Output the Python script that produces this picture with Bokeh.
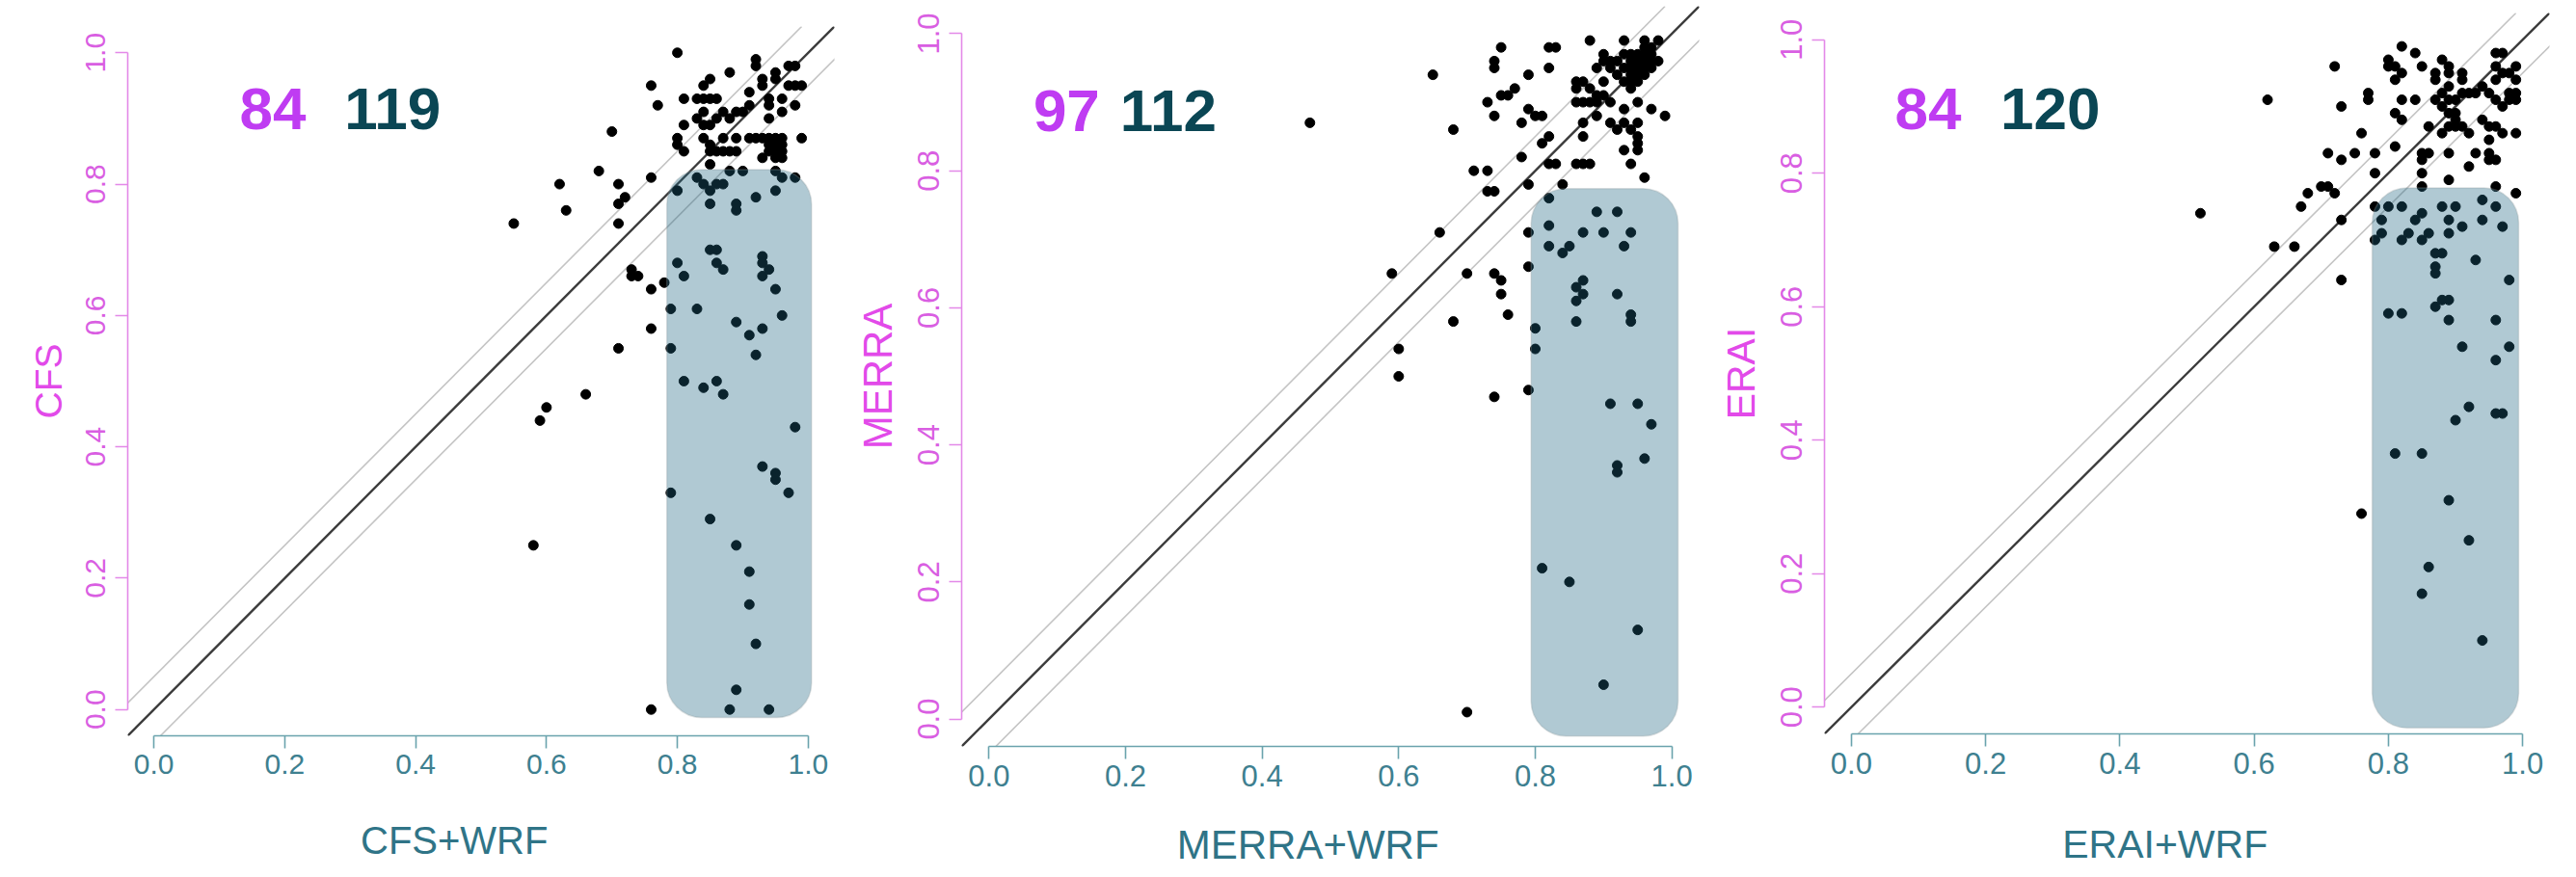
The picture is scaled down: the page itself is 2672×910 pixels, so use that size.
import math
from bokeh.plotting import figure
from bokeh.layouts import row
from bokeh.models import Slope, BoxAnnotation, Label, FixedTicker, PrintfTickFormatter, Range1d
from bokeh.embed import file_html
from bokeh.resources import INLINE

# ---------------- data ----------------
TICKS = [0.0, 0.2, 0.4, 0.6, 0.8, 1.0]

cfs_x = [0.80, 0.92, 0.92, 0.97, 0.98, 0.97, 0.98, 0.99, 0.95, 0.95,
         0.93, 0.93, 0.88, 0.85, 0.84, 0.76, 0.77, 0.81, 0.83, 0.84,
         0.85, 0.86, 0.91, 0.96, 0.98, 0.96, 0.94, 0.94, 0.94, 0.91,
         0.90, 0.89, 0.88, 0.87, 0.86, 0.84, 0.83, 0.85, 0.84, 0.81,
         0.80, 0.80, 0.81, 0.84, 0.85, 0.85, 0.86, 0.87, 0.88, 0.89,
         0.87, 0.89, 0.91, 0.92, 0.93, 0.94, 0.95, 0.96, 0.94, 0.95,
         0.96, 0.94, 0.95, 0.96, 0.99, 0.93, 0.95, 0.96, 0.85, 0.88,
         0.90, 0.95, 0.96, 0.98, 0.76, 0.68, 0.71, 0.72, 0.71, 0.62,
         0.63, 0.55, 0.70, 0.71, 0.73, 0.73, 0.74, 0.76, 0.78, 0.76,
         0.71, 0.66, 0.60, 0.59, 0.58, 0.76,
         0.95, 0.83, 0.84, 0.85, 0.86, 0.87, 0.80, 0.85, 0.89, 0.89,
         0.92, 0.80, 0.81, 0.79, 0.83, 0.79, 0.81, 0.84, 0.86, 0.87,
         0.85, 0.86, 0.86, 0.87, 0.93, 0.93, 0.94, 0.93, 0.95, 0.89,
         0.91, 0.93, 0.92, 0.96, 0.79, 0.85, 0.98, 0.93, 0.95, 0.95,
         0.97, 0.89, 0.91, 0.91, 0.92, 0.89, 0.88, 0.94]
cfs_y = [1.00, 0.99, 0.98, 0.98, 0.98, 0.95, 0.95, 0.95, 0.97, 0.96,
         0.96, 0.95, 0.97, 0.96, 0.95, 0.95, 0.92, 0.93, 0.93, 0.93,
         0.93, 0.93, 0.94, 0.93, 0.92, 0.91, 0.93, 0.92, 0.90, 0.92,
         0.91, 0.91, 0.90, 0.91, 0.90, 0.91, 0.90, 0.89, 0.89, 0.89,
         0.87, 0.86, 0.85, 0.87, 0.86, 0.85, 0.85, 0.85, 0.85, 0.85,
         0.87, 0.87, 0.87, 0.87, 0.87, 0.87, 0.87, 0.87, 0.86, 0.86,
         0.86, 0.85, 0.85, 0.85, 0.87, 0.84, 0.84, 0.84, 0.83, 0.82,
         0.82, 0.82, 0.81, 0.81, 0.81, 0.82, 0.80, 0.78, 0.77, 0.80,
         0.76, 0.74, 0.88, 0.74, 0.67, 0.66, 0.66, 0.64, 0.65, 0.58,
         0.55, 0.48, 0.46, 0.44, 0.25, 0.00,
         0.79, 0.81, 0.80, 0.79, 0.80, 0.80, 0.79, 0.77, 0.77, 0.76,
         0.78, 0.68, 0.66, 0.61, 0.61, 0.55, 0.50, 0.49, 0.50, 0.48,
         0.70, 0.70, 0.68, 0.67, 0.69, 0.68, 0.67, 0.66, 0.64, 0.59,
         0.57, 0.58, 0.54, 0.60, 0.33, 0.29, 0.43, 0.37, 0.36, 0.35,
         0.33, 0.25, 0.21, 0.16, 0.10, 0.03, 0.00, 0.00]

merra_x = [0.75, 0.82, 0.83, 0.88, 0.93, 0.96, 0.98, 0.74, 0.74, 0.82,
           0.79, 0.65, 0.47, 0.68, 0.90, 0.91, 0.92, 0.93, 0.94, 0.95,
           0.96, 0.97, 0.89, 0.90, 0.91, 0.94, 0.95, 0.96, 0.97, 0.98,
           0.94, 0.95, 0.96, 0.97, 0.94, 0.95, 0.96, 0.95, 0.94, 0.90,
           0.86, 0.86, 0.87, 0.88, 0.89, 0.86, 0.87, 0.88, 0.89, 0.91,
           0.90, 0.77, 0.76, 0.75, 0.73, 0.74, 0.78, 0.79, 0.80, 0.81,
           0.82, 0.81, 0.87, 0.87, 0.89, 0.91, 0.92, 0.93, 0.94, 0.95,
           0.93, 0.95, 0.97, 0.99, 0.95, 0.95, 0.95, 0.93, 0.94, 0.96,
           0.78, 0.71, 0.73, 0.73, 0.74, 0.79, 0.82, 0.83, 0.84, 0.86,
           0.87, 0.88, 0.93, 0.92, 0.93, 0.96, 0.97, 0.94,
           0.66, 0.59, 0.70, 0.74, 0.75, 0.75, 0.76, 0.68,
           0.60, 0.60, 0.74, 0.79, 0.79, 0.79, 0.70,
           0.82, 0.89, 0.92, 0.82, 0.87, 0.90, 0.94, 0.82, 0.85, 0.84,
           0.93, 0.87, 0.86, 0.87, 0.86, 0.92, 0.94, 0.94, 0.86, 0.80,
           0.80, 0.91, 0.95, 0.97, 0.96, 0.92, 0.92, 0.81, 0.85, 0.95,
           0.90]
merra_y = [0.98, 0.98, 0.98, 0.99, 0.99, 0.99, 0.99, 0.96, 0.95, 0.95,
           0.94, 0.94, 0.87, 0.86, 0.97, 0.96, 0.96, 0.97, 0.97, 0.97,
           0.98, 0.98, 0.95, 0.96, 0.95, 0.96, 0.96, 0.96, 0.96, 0.96,
           0.95, 0.95, 0.95, 0.95, 0.94, 0.94, 0.94, 0.93, 0.92, 0.93,
           0.93, 0.92, 0.93, 0.92, 0.91, 0.90, 0.90, 0.90, 0.90, 0.90,
           0.91, 0.92, 0.91, 0.91, 0.90, 0.88, 0.87, 0.89, 0.88, 0.88,
           0.85, 0.84, 0.87, 0.85, 0.88, 0.87, 0.86, 0.87, 0.86, 0.87,
           0.89, 0.90, 0.89, 0.88, 0.85, 0.84, 0.83, 0.83, 0.81, 0.79,
           0.82, 0.80, 0.80, 0.77, 0.77, 0.78, 0.81, 0.81, 0.78, 0.81,
           0.81, 0.81, 0.95, 0.94, 0.93, 0.97, 0.97, 0.93,
           0.71, 0.65, 0.65, 0.65, 0.64, 0.62, 0.59, 0.58,
           0.54, 0.50, 0.47, 0.48, 0.71, 0.66, 0.01,
           0.76, 0.74, 0.74, 0.72, 0.71, 0.71, 0.71, 0.69, 0.69, 0.68,
           0.69, 0.64, 0.63, 0.62, 0.61, 0.62, 0.59, 0.58, 0.58, 0.57,
           0.54, 0.46, 0.46, 0.43, 0.38, 0.37, 0.36, 0.22, 0.20, 0.13,
           0.05]

erai_x = [0.72, 0.82, 0.84, 0.80, 0.81, 0.80, 0.85, 0.88, 0.89, 0.89,
          0.87, 0.87, 0.91, 0.91, 0.82, 0.81, 0.89, 0.96, 0.97, 0.96,
          0.97, 0.99, 0.96, 0.98, 0.99, 0.98, 0.99, 0.62, 0.73, 0.77,
          0.77, 0.76, 0.71, 0.73, 0.75, 0.78, 0.81, 0.78, 0.71, 0.70,
          0.68, 0.67, 0.72, 0.73, 0.63, 0.66, 0.73, 0.52, 0.82, 0.84,
          0.81, 0.82, 0.87, 0.88, 0.89, 0.90, 0.91, 0.92, 0.93, 0.94,
          0.95, 0.96, 0.97, 0.98, 0.99, 0.88, 0.89, 0.90, 0.90, 0.91,
          0.89, 0.94, 0.95, 0.96, 0.97, 0.99, 0.86, 0.88, 0.90, 0.92,
          0.95, 0.85, 0.85, 0.86, 0.89, 0.93, 0.95, 0.95, 0.96, 0.92,
          0.85, 0.89, 0.85, 0.96, 0.99,
          0.80, 0.78, 0.82, 0.88, 0.90, 0.94, 0.96, 0.79, 0.84, 0.85,
          0.89, 0.89, 0.91, 0.94, 0.97, 0.79, 0.78, 0.82, 0.83, 0.85,
          0.86, 0.87, 0.88, 0.87, 0.87, 0.93, 0.98, 0.87, 0.88, 0.89,
          0.80, 0.82, 0.89, 0.96, 0.91, 0.98, 0.96, 0.92, 0.90, 0.96,
          0.97, 0.81, 0.85, 0.89, 0.76, 0.92, 0.86, 0.85, 0.94]
erai_y = [0.96, 0.99, 0.98, 0.97, 0.96, 0.96, 0.96, 0.97, 0.96, 0.95,
          0.95, 0.94, 0.95, 0.94, 0.95, 0.94, 0.93, 0.98, 0.98, 0.96,
          0.95, 0.96, 0.94, 0.95, 0.94, 0.92, 0.92, 0.91, 0.90, 0.92,
          0.91, 0.86, 0.83, 0.82, 0.83, 0.83, 0.84, 0.80, 0.78, 0.78,
          0.77, 0.75, 0.77, 0.73, 0.69, 0.69, 0.64, 0.74, 0.91, 0.91,
          0.89, 0.88, 0.91, 0.92, 0.91, 0.91, 0.92, 0.92, 0.92, 0.93,
          0.92, 0.91, 0.90, 0.91, 0.91, 0.90, 0.89, 0.89, 0.88, 0.87,
          0.87, 0.88, 0.87, 0.87, 0.86, 0.86, 0.87, 0.86, 0.87, 0.86,
          0.85, 0.83, 0.82, 0.83, 0.83, 0.83, 0.83, 0.82, 0.82, 0.81,
          0.80, 0.79, 0.78, 0.78, 0.77,
          0.75, 0.75, 0.75, 0.75, 0.75, 0.76, 0.75, 0.73, 0.73, 0.74,
          0.73, 0.71, 0.72, 0.73, 0.72, 0.71, 0.70, 0.70, 0.71, 0.70,
          0.71, 0.68, 0.68, 0.66, 0.65, 0.67, 0.64, 0.60, 0.61, 0.61,
          0.59, 0.59, 0.58, 0.58, 0.54, 0.54, 0.52, 0.45, 0.43, 0.44,
          0.44, 0.38, 0.38, 0.31, 0.29, 0.25, 0.21, 0.17, 0.10]

panel_names = ["CFS", "MERRA", "ERAI"]
x_titles = ["CFS+WRF", "MERRA+WRF", "ERAI+WRF"]
count_left = ["84", "97", "84"]
count_right = ["119", "112", "120"]
# highlighted box extent (data units): left, right, bottom, top
box_left = [0.784, 0.794, 0.776]
box_right = [1.005, 1.009, 0.994]
box_bottom = [-0.012, -0.025, -0.031]
box_top = [0.822, 0.774, 0.778]

# ---------------- styling ----------------
FONT = "Liberation Sans"
MAGENTA_LINE = "#e389e8"
MAGENTA_TICK = "#d95ee2"
MAGENTA_TITLE = "#e24ae9"
TEAL_LINE = "#6aa3ad"
TEAL_TICK = "#3e8090"
TEAL_TITLE = "#2f7487"
PURPLE = "#bf3cf2"
DARK_TEAL = "#0a4654"
NBSP = "\u00a0"

layouts = [
    dict(fw=733, fh=736, bl=132, br=5, bt=27, bb=131, tick=30, xtitle=40, ytitle=39,
         xls=44, yls=15, pad=5,
         n1=(0.131, 0.914), n2=(0.291, 0.914)),
    dict(fw=765, fh=768, bl=127, br=5, bt=6, bb=120, tick=31, xtitle=42, ytitle=42,
         xls=34, yls=16, pad=4,
         n1=(0.065, 0.888), n2=(0.192, 0.888)),
    dict(fw=752, fh=748, bl=125, br=12, bt=13, bb=133, tick=31, xtitle=41, ytitle=41,
         xls=47, yls=16, pad=4,
         n1=(0.065, 0.897), n2=(0.222, 0.897)),
]


def style_axis(ax, line_col, tick_col, fs, standoff):
    ax.ticker = FixedTicker(ticks=TICKS)
    ax.formatter = PrintfTickFormatter(format="%.1f")
    ax.bounds = (0, 1)
    ax.axis_line_color = line_col
    ax.axis_line_width = 1.6
    ax.major_tick_line_color = line_col
    ax.major_tick_line_width = 1.6
    ax.major_tick_out = 13
    ax.major_tick_in = 0
    ax.minor_tick_out = 0
    ax.minor_tick_in = 0
    ax.major_label_text_font = FONT
    ax.major_label_text_font_size = f"{fs}px"
    ax.major_label_text_color = tick_col
    ax.major_label_standoff = standoff


def make_panel(i, xs, ys):
    L = layouts[i]
    p = figure(output_backend="svg", toolbar_location=None,
               frame_width=L["fw"], frame_height=L["fh"],
               min_border_left=L["bl"], min_border_right=L["br"],
               min_border_top=L["bt"], min_border_bottom=L["bb"],
               x_range=Range1d(-0.04, 1.04), y_range=Range1d(-0.04, 1.04),
               background_fill_color="white", border_fill_color="white")
    p.frame_align = False
    p.outline_line_color = None
    p.grid.visible = False

    xa = p.xaxis[0]
    style_axis(xa, TEAL_LINE, TEAL_TICK, L["tick"], 6)
    xa.axis_label = x_titles[i] + NBSP * L["pad"]
    xa.axis_label_text_font = FONT
    xa.axis_label_text_font_style = "normal"
    xa.axis_label_text_font_size = f"{L['xtitle']}px"
    xa.axis_label_text_color = TEAL_TITLE
    xa.axis_label_standoff = L["xls"]

    ya = p.yaxis[0]
    style_axis(ya, MAGENTA_LINE, MAGENTA_TICK, L["tick"], 10)
    ya.major_label_orientation = "vertical"
    ya.axis_label = panel_names[i]
    ya.axis_label_text_font = FONT
    ya.axis_label_text_font_style = "normal"
    ya.axis_label_text_font_size = f"{L['ytitle']}px"
    ya.axis_label_text_color = MAGENTA_TITLE
    ya.axis_label_standoff = L["yls"]

    for b, col, w in [(0.05, "#c4c4c4", 1.6), (-0.05, "#c4c4c4", 1.6), (0.0, "#3c3c3c", 2.4)]:
        p.add_layout(Slope(gradient=1, y_intercept=b, line_color=col, line_width=w, level="underlay"))

    p.scatter(xs, ys, size=10, color="black")

    p.add_layout(BoxAnnotation(left=box_left[i], right=box_right[i],
                               bottom=box_bottom[i], top=box_top[i],
                               fill_color="#1d6481", fill_alpha=0.35,
                               line_color="#8f9c9f", line_width=1.5,
                               border_radius=36, level="overlay"))

    for txt, pos, col in [(count_left[i], L["n1"], PURPLE), (count_right[i], L["n2"], DARK_TEAL)]:
        p.add_layout(Label(x=pos[0], y=pos[1], text=txt, text_font=FONT,
                           text_font_style="bold", text_font_size="62px",
                           text_color=col, text_align="left", text_baseline="middle"))
    return p


p1 = make_panel(0, cfs_x, cfs_y)
p2 = make_panel(1, merra_x, merra_y)
p3 = make_panel(2, erai_x, erai_y)

layout = row(p1, p2, p3, spacing=0)
open("out.html", "w").write(file_html(layout, INLINE))
